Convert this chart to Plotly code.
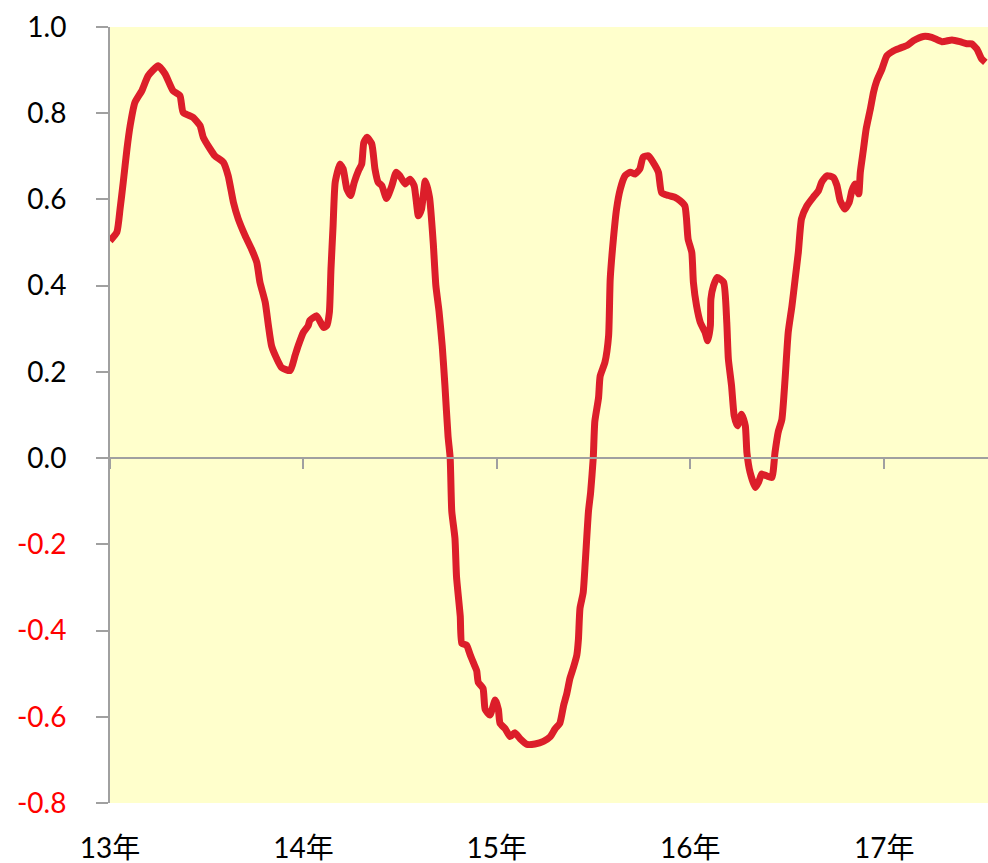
import pandas as pd
import plotly.graph_objects as go

# Days since 2013-01-01 and the correlation value
day_offset = [0, 13, 19, 25, 32, 38, 47, 60, 72, 91, 104, 119, 132, 138, 157, 170, 176, 189, 198, 214,
              223, 233, 242, 255, 267, 277, 283, 293, 299, 305, 315, 324, 340, 349, 355, 365,
              374, 377, 390, 403, 409, 414, 417, 421, 425, 434, 440, 447, 454, 461, 469, 475, 479, 485,
              494, 500, 506, 513, 522, 532, 540, 547, 557, 566, 574, 582, 588, 595, 603,
              610, 615, 621, 627, 632, 638, 642, 645, 651, 654, 661, 664, 673, 680, 686, 692, 695,
              704, 708, 717, 727, 733, 736, 746, 755, 764, 774, 787, 802, 818, 831, 840, 849,
              856, 862, 868, 875, 881, 884, 887, 893, 897, 903, 907, 912, 915, 922, 925, 934, 941,
              944, 950, 956, 963, 972, 982, 991, 1000, 1006, 1016, 1025, 1035, 1041, 1054, 1066,
              1076, 1085, 1088, 1091, 1098, 1101, 1107, 1114, 1123, 1128, 1133, 1134, 1139, 1146,
              1158, 1164, 1167, 1173, 1178, 1184, 1192, 1199, 1202, 1208, 1218, 1224, 1230, 1239,
              1249, 1255, 1261, 1268, 1274, 1280, 1287, 1293, 1299, 1305, 1315, 1327, 1337, 1343,
              1353, 1365, 1372, 1378, 1387, 1395, 1400, 1406, 1413, 1416, 1422, 1427, 1435, 1441,
              1447, 1457, 1466, 1479, 1491, 1504, 1516, 1535, 1551, 1570, 1589, 1604, 1617, 1626,
              1636, 1645, 1652]
corr = [0.504, 0.524, 0.578, 0.64, 0.717, 0.771, 0.825, 0.852, 0.887, 0.910, 0.891, 0.852, 0.841, 0.802,
        0.79, 0.771, 0.744, 0.717, 0.701, 0.686, 0.655, 0.593, 0.555, 0.516, 0.485, 0.454, 0.408, 0.361,
        0.307, 0.26, 0.23, 0.21, 0.203, 0.237, 0.26, 0.292,
        0.307, 0.319, 0.33, 0.303, 0.307, 0.338, 0.438, 0.539, 0.64, 0.682, 0.671, 0.624, 0.609, 0.64,
        0.667, 0.682, 0.732, 0.744, 0.729, 0.671, 0.64, 0.632, 0.602, 0.632, 0.663, 0.655, 0.636, 0.647,
        0.632, 0.562, 0.578, 0.643, 0.605,
        0.50, 0.40, 0.34, 0.26, 0.17, 0.05, 0.0, -0.123, -0.186, -0.276, -0.367, -0.43, -0.434, -0.457,
        -0.475, -0.493, -0.52, -0.534, -0.583, -0.596, -0.561, -0.583, -0.615, -0.628, -0.646, -0.637,
        -0.651, -0.664, -0.663, -0.657, -0.646, -0.628, -0.615,
        -0.574, -0.547, -0.511, -0.484, -0.457, -0.421, -0.348, -0.312, -0.24, -0.123, -0.08, 0.0, 0.085,
        0.14, 0.19, 0.222, 0.284,
        0.415, 0.508, 0.578, 0.624, 0.655, 0.663, 0.659, 0.671, 0.698, 0.701, 0.686, 0.663, 0.616, 0.609,
        0.605, 0.597, 0.585, 0.555, 0.508, 0.477, 0.408, 0.353, 0.315, 0.292, 0.272, 0.307, 0.369, 0.40,
        0.419, 0.408, 0.315, 0.23, 0.168, 0.098, 0.075, 0.102, 0.075, 0.013, -0.033, -0.068, -0.056, -0.037,
        -0.041, -0.045, 0.013, 0.06, 0.09, 0.183, 0.292, 0.353, 0.415, 0.477, 0.555, 0.585, 0.605, 0.62,
        0.64, 0.655, 0.651, 0.632, 0.597, 0.578, 0.593, 0.62, 0.636, 0.613, 0.663, 0.717, 0.763, 0.81,
        0.849, 0.875, 0.903, 0.933, 0.945, 0.951, 0.957, 0.968, 0.978, 0.976, 0.966, 0.97, 0.966, 0.961,
        0.961, 0.949, 0.926, 0.918]

year_ticks = ["2013-01-01", "2014-01-01", "2015-01-01", "2016-01-01", "2017-01-01"]
year_labels = ["13年", "14年", "15年", "16年", "17年"]
y_ticks = [-0.8, -0.6, -0.4, -0.2, 0.0, 0.2, 0.4, 0.6, 0.8, 1.0]

start = pd.Timestamp("2013-01-01")
dates = [start + pd.Timedelta(days=d) for d in day_offset]

y_text = [("<span style='color:#FF0000'>%.1f</span>" % v) if v < 0 else "%.1f" % v for v in y_ticks]

AX = "#A0A0A0"
FONT = "Lato, 'Noto Sans CJK SC', sans-serif"

fig = go.Figure()
fig.add_trace(go.Scatter(x=dates, y=corr, mode="lines",
                         line=dict(color="#DC1E2A", width=7, shape="spline", smoothing=0.5),
                         hoverinfo="skip", showlegend=False))
# invisible copy to carry the zero-level axis
fig.add_trace(go.Scatter(x=dates, y=corr, mode="lines", xaxis="x2",
                         line=dict(color="rgba(0,0,0,0)", width=0),
                         hoverinfo="skip", showlegend=False))

xr = ["2013-01-01", "2017-07-16"]
zero_pos = (0 - (-0.8)) / (1.0 - (-0.8))

fig.update_layout(
    width=988, height=863,
    margin=dict(l=110, r=0, t=27, b=60),
    paper_bgcolor="white",
    plot_bgcolor="#FFFFCC",
    font=dict(family=FONT, size=28, color="black"),
    xaxis=dict(type="date", range=xr, tickvals=year_ticks, ticktext=year_labels,
               ticks="", showline=False, showgrid=False, zeroline=False,
               tickfont=dict(size=28, color="black"), ticklabelstandoff=26),
    xaxis2=dict(type="date", overlaying="x", matches="x", anchor="free", position=zero_pos,
                range=xr, tickvals=year_ticks, showticklabels=False,
                ticks="outside", ticklen=10, tickwidth=2, tickcolor=AX,
                showline=True, linecolor=AX, linewidth=2, showgrid=False, zeroline=False),
    yaxis=dict(range=[-0.8, 1.0], tickvals=y_ticks, ticktext=y_text,
               ticks="outside", ticklen=12, tickwidth=2, tickcolor=AX,
               showline=True, linecolor=AX, linewidth=2, showgrid=False, zeroline=False,
               tickfont=dict(size=28, color="black"), ticklabelstandoff=24),
)

fig.write_html("out.html",
               config={"displayModeBar": False},
               post_script="document.body.style.margin='0';document.body.style.overflow='hidden';")
